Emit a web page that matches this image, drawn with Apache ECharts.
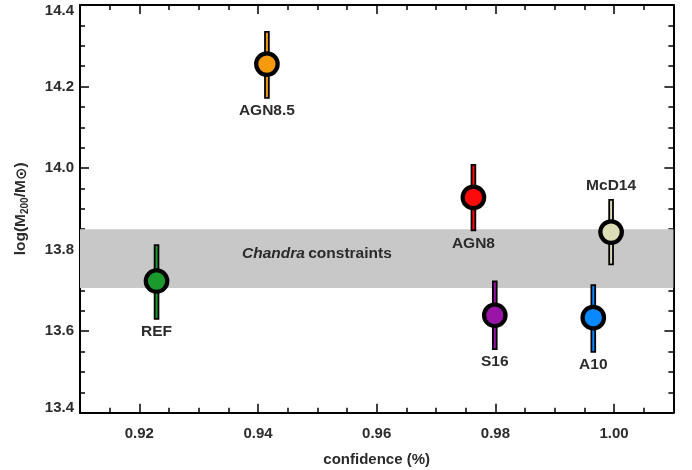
<!DOCTYPE html>
<html>
<head>
<meta charset="utf-8">
<script src="https://cdn.jsdelivr.net/npm/echarts@6/dist/echarts.min.js"></script>
<style>html,body{margin:0;padding:0;background:#fff;}#c{width:692px;height:470px;}</style>
</head>
<body>
<div id="c"></div>
<script>
const models = ['REF', 'AGN8.5', 'AGN8', 'S16', 'A10', 'McD14'];
const confidence = [0.9229, 0.9415, 0.9763, 0.9799, 0.9965, 0.9995];
const logMass = [13.723, 14.255, 13.928, 13.639, 13.633, 13.843];
const errLow = [13.630, 14.172, 13.847, 13.556, 13.549, 13.764];
const errHigh = [13.811, 14.334, 14.008, 13.722, 13.713, 13.922];
const bandRange = [13.706, 13.850];
const xTicks = [0.92, 0.94, 0.96, 0.98, 1.00];
const yTicks = [13.4, 13.6, 13.8, 14.0, 14.2, 14.4];

const colors = ['#1a9a2c', '#f59a0c', '#ff0a0a', '#9a14a8', '#0a88ff', '#dcdcb6'];
const labelSide = ['below', 'below', 'below', 'below', 'below', 'above'];
const FONT = '"Liberation Sans", Arial, Helvetica, sans-serif';
const TXT = '#2b2b2b';
const FS = 15;
const xMin = 0.91, xMax = 1.01, yMin = yTicks[0], yMax = yTicks[yTicks.length - 1];

const chart = echarts.init(document.getElementById('c'), null, {renderer: 'canvas'});

const lineStyle = {color: '#000', width: 2};
function xMajor(pos, labels) {
  return {
    type: 'value', position: pos, min: xMin, max: xMax,
    axisLine: {show: true, onZero: false, lineStyle},
    axisTick: {show: true, inside: true, length: 9, lineStyle: {color: '#000', width: 1.5}, customValues: xTicks},
    axisLabel: labels ? {show: true, customValues: xTicks, margin: 14, color: TXT, fontWeight: 'bold', fontSize: FS, fontFamily: FONT,
      formatter: v => v.toFixed(2)} : {show: false},
    splitLine: {show: false},
    name: labels ? 'confidence (%)' : '',
    nameLocation: 'middle', nameGap: 40,
    nameTextStyle: {color: TXT, fontWeight: 'bold', fontSize: FS, fontFamily: FONT}
  };
}
function xMinor(pos) {
  return {
    type: 'value', position: pos, min: xMin, max: xMax, interval: 0.005,
    axisLine: {show: false},
    axisTick: {show: true, inside: true, length: 5, lineStyle: {color: '#000', width: 1.5}},
    axisLabel: {show: false}, splitLine: {show: false}
  };
}
function yAx(pos, labels) {
  const lab = {fontWeight: 'bold', fontSize: FS, fontFamily: FONT, color: TXT};
  return {
    type: 'value', position: pos, min: yMin, max: yMax, interval: 0.2,
    axisLine: {show: true, onZero: false, lineStyle},
    axisTick: {show: true, inside: true, length: 9, lineStyle: {color: '#000', width: 1.5}},
    minorTick: {show: true, splitNumber: 4, length: 5, lineStyle: {color: '#000', width: 1.5}},
    axisLabel: labels ? {show: true, margin: 6, color: TXT, fontWeight: 'bold', fontSize: FS, fontFamily: FONT,
      formatter: v => {
        const s = v.toFixed(1);
        if (Math.abs(v - yMax) < 1e-6) return '{hi|' + s + '}';
        if (Math.abs(v - yMin) < 1e-6) return '{lo|' + s + '}';
        return s;
      },
      rich: {
        hi: Object.assign({padding: [12, 0, 0, 0]}, lab),
        lo: Object.assign({padding: [0, 0, 9, 0]}, lab)
      }} : {show: false},
    splitLine: {show: false}, minorSplitLine: {show: false},
    name: labels ? 'log(M{sub|200}/M{sun|⊙})' : '',
    nameLocation: 'middle', nameGap: 50,
    nameTextStyle: {color: TXT, fontWeight: 'bold', fontSize: 15.5, fontFamily: FONT,
      rich: {
        sub: {fontSize: 10, fontWeight: 'bold', color: TXT, fontFamily: FONT, verticalAlign: 'bottom', padding: [6, 0, 0, 0]},
        sun: {fontSize: 15, fontWeight: 'bold', color: TXT, fontFamily: '"DejaVu Sans", sans-serif', verticalAlign: 'bottom', padding: [3, 0, 0, 0]}
      }}
  };
}

const option = {
  animation: false,
  backgroundColor: '#fff',
  grid: {left: 80, right: 18.6, top: 5, bottom: 57.3, containLabel: false, outerBoundsMode: 'none'},
  xAxis: [xMajor('bottom', true), xMinor('bottom'), xMajor('top', false), xMinor('top')],
  yAxis: [yAx('left', true), yAx('right', false)],
  series: [
    {
      type: 'custom', name: 'band', z: 1, silent: true, clip: false,
      data: [[xMin, bandRange[0], xMax, bandRange[1]]],
      encode: {x: [0, 2], y: [1, 3]},
      renderItem(params, api) {
        const p0 = api.coord([api.value(0), api.value(3)]);
        const p1 = api.coord([api.value(2), api.value(1)]);
        return {
          type: 'group',
          children: [
            {type: 'rect', shape: {x: p0[0], y: p0[1], width: p1[0] - p0[0], height: p1[1] - p0[1]}, style: {fill: '#c8c8c8'}},
            {type: 'text', x: p0[0] + 162, y: p0[1] + 24,
              style: {text: '{i|Chandra} {b|constraints}', align: 'left', verticalAlign: 'middle',
                rich: {
                  i: {fontStyle: 'italic', fontWeight: 'bold', fontSize: 15.5, fontFamily: FONT, fill: TXT},
                  b: {fontWeight: 'bold', fontSize: 15.5, fontFamily: FONT, fill: TXT}
                }}}
          ]
        };
      }
    },
    {
      type: 'custom', name: 'errors', z: 2, silent: true,
      data: confidence.map((c, i) => [c, errLow[i], errHigh[i]]),
      encode: {x: 0, y: [1, 2]},
      renderItem(params, api) {
        const i = params.dataIndex;
        const x = api.value(0);
        const top = api.coord([x, api.value(2)]);
        const bot = api.coord([x, api.value(1)]);
        const w = 3.8;
        const above = labelSide[i] === 'above';
        return {
          type: 'group',
          children: [
            {type: 'rect', shape: {x: top[0] - w / 2, y: top[1], width: w, height: bot[1] - top[1]},
              style: {fill: colors[i], stroke: '#000', lineWidth: 1.8}},
            {type: 'text', x: top[0], y: above ? top[1] - 14 : bot[1] + 13,
              style: {text: models[i], fill: TXT, font: 'bold 15.5px ' + FONT, align: 'center', verticalAlign: 'middle'}}
          ]
        };
      }
    },
    {
      type: 'scatter', name: 'models', z: 3, silent: true,
      symbol: 'circle', symbolSize: 21.5,
      data: confidence.map((c, i) => ({value: [c, logMass[i]], itemStyle: {color: colors[i]}})),
      itemStyle: {borderColor: '#000', borderWidth: 4.2, opacity: 1}
    }
  ]
};
chart.setOption(option);
</script>
</body>
</html>
